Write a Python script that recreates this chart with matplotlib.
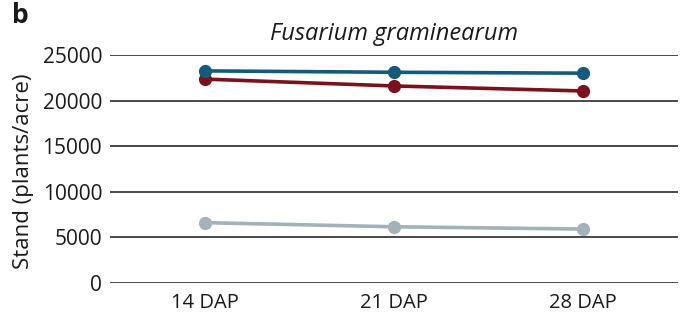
import matplotlib
matplotlib.use("Agg")
import matplotlib.pyplot as plt

categories = ["14 DAP", "21 DAP", "28 DAP"]
series_blue = [23250, 23100, 23000]
series_red = [22350, 21600, 21050]
series_gray = [6620, 6170, 5920]
yticks = [0, 5000, 10000, 15000, 20000, 25000]

plt.rcParams['font.family'] = ['Open Sans', 'DejaVu Sans']

fig = plt.figure(figsize=(6.9, 3.25), dpi=100)
ax = fig.add_axes([0.160, 0.129, 0.822, 0.702])

x = range(len(categories))
for vals, col in [(series_gray, "#a3b1b9"), (series_red, "#7a111b"), (series_blue, "#135b7c")]:
    ax.plot(x, vals, color=col, lw=2.6, marker="o", ms=8.5, zorder=3, solid_capstyle="round")

ax.set_xlim(-0.5, 2.5)
ax.set_ylim(0, 25000)
ax.set_yticks(yticks)
ax.set_yticklabels([str(v) for v in yticks], fontsize=15, color="#1a1a1a")
ax.set_xticks(list(x))
ax.set_xticklabels(categories, fontsize=14.5, color="#1a1a1a")
ax.grid(axis="y", color="#2a2a2a", lw=1.2, zorder=1)
for s in ax.spines.values():
    s.set_visible(False)
ax.tick_params(length=0, pad=6)
ax.tick_params(axis="x", pad=7)
ax.set_ylabel("Stand (plants/acre)", fontsize=16, color="#1a1a1a", labelpad=2)
ax.yaxis.set_label_coords(-0.135, 0.49)
ax.set_title("Fusarium graminearum", fontsize=17, style="italic", color="#1a1a1a", pad=11)
fig.text(0.017, 0.952, "b", fontsize=19, fontweight="bold", color="#1a1a1a", va="center")

fig.savefig("out.png", dpi=100)
